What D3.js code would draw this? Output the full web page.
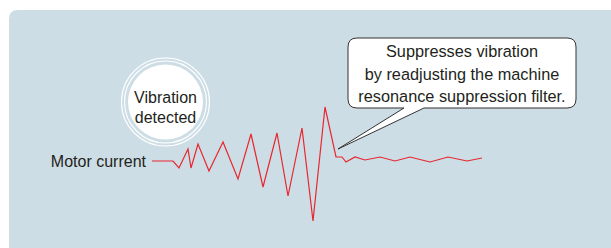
<!DOCTYPE html>
<html>
<head>
<meta charset="utf-8">
<script src="https://cdn.jsdelivr.net/npm/d3@7"></script>
<style>
  html, body { margin: 0; padding: 0; background: #ffffff; }
  svg { display: block; }
  text { font-family: "Liberation Sans", Arial, Helvetica, sans-serif; fill: #231f20; }
</style>
</head>
<body>
<svg id="chart" width="611" height="248"></svg>
<script>
// Time (arbitrary units) and motor current (arbitrary units, 0 = steady level)
const times = [0, 21, 27, 36, 39, 46, 57, 71, 86, 99, 111, 125, 136, 150, 161, 173,
               184, 190, 194, 203, 213, 228, 243, 258, 278, 296, 315, 330];
const current = [0, 0, -7, 12, -7, 17, -10, 19, -18, 27, -26, 28, -35, 33, -60, 54,
                 4, 4, -1, 4, 1, 4, 0, 4, -1, 4, 0, 3];
const seriesLabel = "Motor current";
const detectLabel = ["Vibration", "detected"];
const calloutLines = ["Suppresses vibration", "by readjusting the machine", "resonance suppression filter."];

const svg = d3.select("#chart");
const W = 611, H = 248;

// Panel background with rounded top-left corner
const px = 9, py = 10, r0 = 9;
svg.append("path")
  .attr("d", `M${px},${H} L${px},${py + r0} Q${px},${py} ${px + r0},${py} L${W},${py} L${W},${H} Z`)
  .attr("fill", "#cddde5");

// Scales
const x = d3.scaleLinear().domain([0, 330]).range([152, 482]);
const y = d3.scaleLinear().domain([-60, 54]).range([221, 107]);

const data = times.map((t, i) => ({ t, v: current[i] }));

// Series label
svg.append("text")
  .attr("x", x(0) - 6)
  .attr("y", y(0) + 5.5)
  .attr("text-anchor", "end")
  .attr("font-size", 16)
  .text(seriesLabel);

// Waveform
svg.append("path")
  .datum(data)
  .attr("d", d3.line().x(d => x(d.t)).y(d => y(d.v)))
  .attr("fill", "none")
  .attr("stroke", "#e8262e")
  .attr("stroke-width", 1.2)
  .attr("stroke-linejoin", "miter");

// "Vibration detected" circle with rings
const cx = 165.5, cy = 102;
svg.append("circle").attr("cx", cx).attr("cy", cy).attr("r", 44)
  .attr("fill", "none").attr("stroke", "#ffffff").attr("stroke-width", 1.1);
svg.append("circle").attr("cx", cx).attr("cy", cy).attr("r", 41)
  .attr("fill", "none").attr("stroke", "#ffffff").attr("stroke-width", 1.1);
svg.append("circle").attr("cx", cx).attr("cy", cy).attr("r", 37.5)
  .attr("fill", "#ffffff");
svg.append("text")
  .attr("x", cx).attr("y", cy)
  .attr("text-anchor", "middle")
  .attr("font-size", 16)
  .selectAll("tspan").data(detectLabel).join("tspan")
  .attr("x", cx)
  .attr("y", (d, i) => cy + 1 + i * 20)
  .text(d => d);

// Callout box
const bx = 348, by = 38, bw = 228, bh = 70, br = 9;
const tipT = 187; // tail tip near the suppressed waveform
const tip = [x(tipT) - 1, 149];
const tl = 404, tr = 424;
const calloutPath =
  `M${bx + br},${by} L${bx + bw - br},${by} Q${bx + bw},${by} ${bx + bw},${by + br}` +
  ` L${bx + bw},${by + bh - br} Q${bx + bw},${by + bh} ${bx + bw - br},${by + bh}` +
  ` L${tr},${by + bh} L${tip[0]},${tip[1]} L${tl},${by + bh}` +
  ` L${bx + br},${by + bh} Q${bx},${by + bh} ${bx},${by + bh - br}` +
  ` L${bx},${by + br} Q${bx},${by} ${bx + br},${by} Z`;
svg.append("path")
  .attr("d", calloutPath)
  .attr("fill", "#ffffff")
  .attr("stroke", "#333333")
  .attr("stroke-width", 1)
  .attr("stroke-linejoin", "miter");

svg.append("text")
  .attr("text-anchor", "middle")
  .attr("font-size", 16.3)
  .selectAll("tspan").data(calloutLines).join("tspan")
  .attr("x", bx + bw / 2)
  .attr("y", (d, i) => 57 + i * 22.5)
  .text(d => d);
</script>
</body>
</html>
